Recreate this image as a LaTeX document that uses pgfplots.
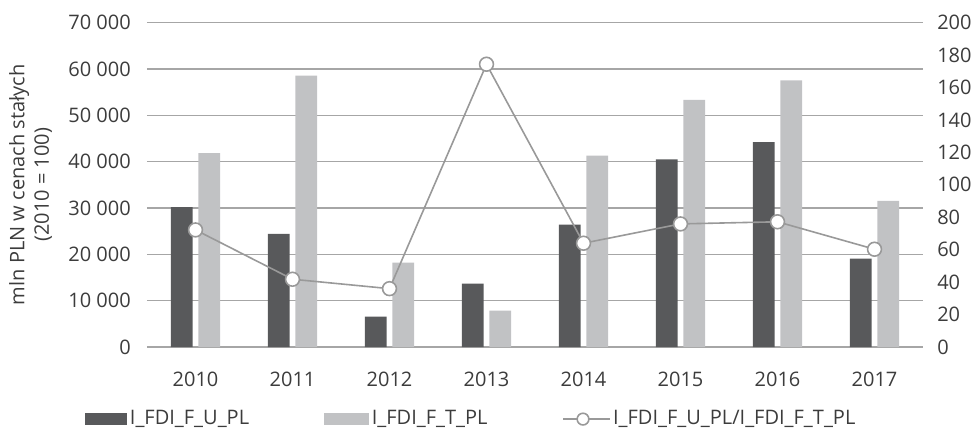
\documentclass[border=0pt]{standalone}
\usepackage{pgfplots}
\pgfplotsset{compat=1.18}
\usepackage{fontspec}
\setmainfont{Open Sans}

\definecolor{darkbar}{HTML}{58595B}
\definecolor{lightbar}{HTML}{C1C2C4}
\definecolor{gridgray}{HTML}{A6A6A6}
\definecolor{linegray}{HTML}{999999}
\definecolor{txt}{HTML}{3C3C3C}

\begin{document}
\fontsize{15}{18.4}\selectfont
\begin{tikzpicture}
\begin{axis}[
  scale only axis,
  width=582pt, height=243.4pt,
  xmin=-0.5, xmax=7.5,
  ymin=0, ymax=70000,
  ybar=4.4pt, bar width=16.3pt,
  xtick={0,...,7},
  xticklabels={2010,2011,2012,2013,2014,2015,2016,2017},
  ytick={0,10000,...,70000},
  scaled y ticks=false,
  /pgf/number format/1000 sep={\ },
  /pgf/number format/assume math mode=true,
  ymajorgrids,
  grid style={gridgray, line width=1pt},
  axis line style={draw=none},
  tick style={draw=none},
  ticklabel style={text=txt},
  xticklabel style={yshift=-9pt},
  yticklabel style={xshift=-7pt},
  ylabel={mln PLN w cenach stałych\\(2010 = 100)},
  ylabel style={at={(axis description cs:-0.15,0.5)}, anchor=center, align=center, text=txt},
  legend columns=3,
  legend style={at={(-0.0799,-0.222)}, anchor=west, draw=none, fill=none,
    inner sep=0pt, text=txt,
    /tikz/every even column/.append style={column sep=54pt}},
]
\addplot[fill=darkbar, draw=none,
  legend image code/.code={\fill[darkbar] (0pt,-4.4pt) rectangle (31.5pt,4.4pt);}]
  coordinates {(0,30200) (1,24400) (2,6550) (3,13700) (4,26400) (5,40500) (6,44200) (7,19100)};
\addlegendentry{I\_FDI\_F\_U\_PL}
\addplot[fill=lightbar, draw=none,
  legend image code/.code={\fill[lightbar] (0pt,-4.4pt) rectangle (34pt,4.4pt);}]
  coordinates {(0,41850) (1,58550) (2,18200) (3,7850) (4,41300) (5,53300) (6,57550) (7,31550)};
\addlegendentry{I\_FDI\_F\_T\_PL}
\addlegendimage{legend image code/.code={
    \draw[linegray, line width=1.2pt] (0pt,0pt) -- (35pt,0pt);
    \draw[linegray, line width=1.2pt, fill=white] (15pt,0pt) circle (4.4pt);}}
\addlegendentry{I\_FDI\_F\_U\_PL/I\_FDI\_F\_T\_PL}
\end{axis}
\begin{axis}[
  scale only axis,
  width=582pt, height=243.4pt,
  xmin=-0.5, xmax=7.5,
  ymin=0, ymax=200,
  ytick={0,20,...,200},
  axis y line*=right,
  hide x axis,
  axis line style={draw=none},
  tick style={draw=none},
  /pgf/number format/assume math mode=true,
  yticklabel style={text=txt, xshift=5.5pt},
]
\addplot[linegray, line width=1.2pt, mark=*, mark size=5.2pt,
  mark options={fill=white, draw=linegray}]
  coordinates {(0,72.2) (1,41.8) (2,36.0) (3,174.3) (4,64.0) (5,75.9) (6,77.2) (7,60.3)};
\end{axis}
\pgfresetboundingbox
\path[use as bounding box] (-110.25pt,-63pt) rectangle (620.25pt,260.3pt);
\end{tikzpicture}
\end{document}
